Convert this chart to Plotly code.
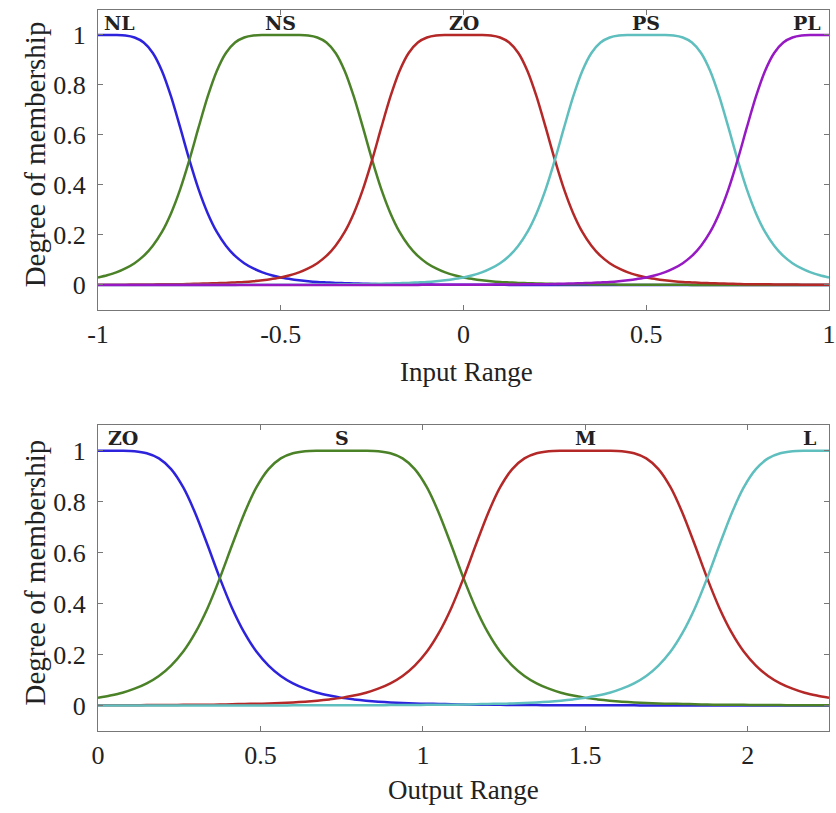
import plotly.graph_objects as go
from plotly.subplots import make_subplots

# ---------------- data ----------------
input_x = [-1.000, -0.975, -0.950, -0.925, -0.900, -0.875, -0.850, -0.825, -0.800, -0.775,
           -0.750, -0.725, -0.700, -0.675, -0.650, -0.625, -0.600, -0.575, -0.550, -0.525,
           -0.500, -0.475, -0.450, -0.425, -0.400, -0.375, -0.350, -0.325, -0.300, -0.275,
           -0.250, -0.225, -0.200, -0.175, -0.150, -0.125, -0.100, -0.075, -0.050, -0.025,
           0.000, 0.025, 0.050, 0.075, 0.100, 0.125, 0.150, 0.175, 0.200, 0.225,
           0.250, 0.275, 0.300, 0.325, 0.350, 0.375, 0.400, 0.425, 0.450, 0.475,
           0.500, 0.525, 0.550, 0.575, 0.600, 0.625, 0.650, 0.675, 0.700, 0.725,
           0.750, 0.775, 0.800, 0.825, 0.850, 0.875, 0.900, 0.925, 0.950, 0.975, 1.000]

mf_NL = [1.000, 1.000, 1.000, 0.998, 0.990, 0.970, 0.928, 0.856, 0.753, 0.629,
         0.500, 0.383, 0.287, 0.212, 0.157, 0.116, 0.087, 0.066, 0.050, 0.039,
         0.030, 0.024, 0.019, 0.015, 0.012, 0.010, 0.008, 0.007, 0.006, 0.005,
         0.004, 0.003, 0.003, 0.003, 0.002, 0.002, 0.002, 0.001, 0.001, 0.001,
         0.001, 0.001, 0.001, 0.001, 0.001, 0, 0, 0, 0, 0,
         0, 0, 0, 0, 0, 0, 0, 0, 0, 0,
         0, 0, 0, 0, 0, 0, 0, 0, 0, 0,
         0, 0, 0, 0, 0, 0, 0, 0, 0, 0, 0]
mf_NS = [0.030, 0.039, 0.050, 0.066, 0.087, 0.116, 0.157, 0.212, 0.287, 0.383,
         0.500, 0.629, 0.753, 0.856, 0.928, 0.970, 0.990, 0.998, 1.000, 1.000,
         1.000, 1.000, 1.000, 0.998, 0.990, 0.970, 0.928, 0.856, 0.753, 0.629,
         0.500, 0.383, 0.287, 0.212, 0.157, 0.116, 0.087, 0.066, 0.050, 0.039,
         0.030, 0.024, 0.019, 0.015, 0.012, 0.010, 0.008, 0.007, 0.006, 0.005,
         0.004, 0.003, 0.003, 0.003, 0.002, 0.002, 0.002, 0.001, 0.001, 0.001,
         0.001, 0.001, 0.001, 0.001, 0.001, 0, 0, 0, 0, 0,
         0, 0, 0, 0, 0, 0, 0, 0, 0, 0, 0]
mf_ZO = [0.001, 0.001, 0.001, 0.001, 0.002, 0.002, 0.002, 0.003, 0.003, 0.003,
         0.004, 0.005, 0.006, 0.007, 0.008, 0.010, 0.012, 0.015, 0.019, 0.024,
         0.030, 0.039, 0.050, 0.066, 0.087, 0.116, 0.157, 0.212, 0.287, 0.383,
         0.500, 0.629, 0.753, 0.856, 0.928, 0.970, 0.990, 0.998, 1.000, 1.000,
         1.000, 1.000, 1.000, 0.998, 0.990, 0.970, 0.928, 0.856, 0.753, 0.629,
         0.500, 0.383, 0.287, 0.212, 0.157, 0.116, 0.087, 0.066, 0.050, 0.039,
         0.030, 0.024, 0.019, 0.015, 0.012, 0.010, 0.008, 0.007, 0.006, 0.005,
         0.004, 0.003, 0.003, 0.003, 0.002, 0.002, 0.002, 0.001, 0.001, 0.001, 0.001]
mf_PS = [0, 0, 0, 0, 0, 0, 0, 0, 0, 0,
         0, 0, 0, 0, 0, 0, 0.001, 0.001, 0.001, 0.001,
         0.001, 0.001, 0.001, 0.001, 0.002, 0.002, 0.002, 0.003, 0.003, 0.003,
         0.004, 0.005, 0.006, 0.007, 0.008, 0.010, 0.012, 0.015, 0.019, 0.024,
         0.030, 0.039, 0.050, 0.066, 0.087, 0.116, 0.157, 0.212, 0.287, 0.383,
         0.500, 0.629, 0.753, 0.856, 0.928, 0.970, 0.990, 0.998, 1.000, 1.000,
         1.000, 1.000, 1.000, 0.998, 0.990, 0.970, 0.928, 0.856, 0.753, 0.629,
         0.500, 0.383, 0.287, 0.212, 0.157, 0.116, 0.087, 0.066, 0.050, 0.039, 0.030]
mf_PL = [0, 0, 0, 0, 0, 0, 0, 0, 0, 0,
         0, 0, 0, 0, 0, 0, 0, 0, 0, 0,
         0, 0, 0, 0, 0, 0, 0, 0, 0, 0,
         0, 0, 0, 0, 0, 0, 0.001, 0.001, 0.001, 0.001,
         0.001, 0.001, 0.001, 0.001, 0.002, 0.002, 0.002, 0.003, 0.003, 0.003,
         0.004, 0.005, 0.006, 0.007, 0.008, 0.010, 0.012, 0.015, 0.019, 0.024,
         0.030, 0.039, 0.050, 0.066, 0.087, 0.116, 0.157, 0.212, 0.287, 0.383,
         0.500, 0.629, 0.753, 0.856, 0.928, 0.970, 0.990, 0.998, 1.000, 1.000, 1.000]

output_x = [0.0000, 0.0375, 0.0750, 0.1125, 0.1500, 0.1875, 0.2250, 0.2625, 0.3000, 0.3375,
            0.3750, 0.4125, 0.4500, 0.4875, 0.5250, 0.5625, 0.6000, 0.6375, 0.6750, 0.7125,
            0.7500, 0.7875, 0.8250, 0.8625, 0.9000, 0.9375, 0.9750, 1.0125, 1.0500, 1.0875,
            1.1250, 1.1625, 1.2000, 1.2375, 1.2750, 1.3125, 1.3500, 1.3875, 1.4250, 1.4625,
            1.5000, 1.5375, 1.5750, 1.6125, 1.6500, 1.6875, 1.7250, 1.7625, 1.8000, 1.8375,
            1.8750, 1.9125, 1.9500, 1.9875, 2.0250, 2.0625, 2.1000, 2.1375, 2.1750, 2.2125, 2.2500]

mf_out_ZO = [1.000, 1.000, 1.000, 0.998, 0.990, 0.970, 0.928, 0.856, 0.753, 0.629,
             0.500, 0.383, 0.287, 0.212, 0.157, 0.116, 0.087, 0.066, 0.050, 0.039,
             0.030, 0.024, 0.019, 0.015, 0.012, 0.010, 0.008, 0.007, 0.006, 0.005,
             0.004, 0.003, 0.003, 0.003, 0.002, 0.002, 0.002, 0.001, 0.001, 0.001,
             0.001, 0.001, 0.001, 0.001, 0.001, 0, 0, 0, 0, 0,
             0, 0, 0, 0, 0, 0, 0, 0, 0, 0, 0]
mf_out_S = [0.030, 0.039, 0.050, 0.066, 0.087, 0.116, 0.157, 0.212, 0.287, 0.383,
            0.500, 0.629, 0.753, 0.856, 0.928, 0.970, 0.990, 0.998, 1.000, 1.000,
            1.000, 1.000, 1.000, 0.998, 0.990, 0.970, 0.928, 0.856, 0.753, 0.629,
            0.500, 0.383, 0.287, 0.212, 0.157, 0.116, 0.087, 0.066, 0.050, 0.039,
            0.030, 0.024, 0.019, 0.015, 0.012, 0.010, 0.008, 0.007, 0.006, 0.005,
            0.004, 0.003, 0.003, 0.003, 0.002, 0.002, 0.002, 0.001, 0.001, 0.001, 0.001]
mf_out_M = [0.001, 0.001, 0.001, 0.001, 0.002, 0.002, 0.002, 0.003, 0.003, 0.003,
            0.004, 0.005, 0.006, 0.007, 0.008, 0.010, 0.012, 0.015, 0.019, 0.024,
            0.030, 0.039, 0.050, 0.066, 0.087, 0.116, 0.157, 0.212, 0.287, 0.383,
            0.500, 0.629, 0.753, 0.856, 0.928, 0.970, 0.990, 0.998, 1.000, 1.000,
            1.000, 1.000, 1.000, 0.998, 0.990, 0.970, 0.928, 0.856, 0.753, 0.629,
            0.500, 0.383, 0.287, 0.212, 0.157, 0.116, 0.087, 0.066, 0.050, 0.039, 0.030]
mf_out_L = [0, 0, 0, 0, 0, 0, 0, 0, 0, 0,
            0, 0, 0, 0, 0, 0, 0.001, 0.001, 0.001, 0.001,
            0.001, 0.001, 0.001, 0.001, 0.002, 0.002, 0.002, 0.003, 0.003, 0.003,
            0.004, 0.005, 0.006, 0.007, 0.008, 0.010, 0.012, 0.015, 0.019, 0.024,
            0.030, 0.039, 0.050, 0.066, 0.087, 0.116, 0.157, 0.212, 0.287, 0.383,
            0.500, 0.629, 0.753, 0.856, 0.928, 0.970, 0.990, 0.998, 1.000, 1.000, 1.000]

input_labels = ["NL", "NS", "ZO", "PS", "PL"]
output_labels = ["ZO", "S", "M", "L"]

input_ticks = [-1, -0.5, 0, 0.5, 1]
input_ticktext = ["-1", "-0.5", "0", "0.5", "1"]
output_ticks = [0, 0.5, 1, 1.5, 2]
output_ticktext = ["0", "0.5", "1", "1.5", "2"]
y_ticks = [0, 0.2, 0.4, 0.6, 0.8, 1]
y_ticktext = ["0", "0.2", "0.4", "0.6", "0.8", "1"]

# ---------------- styles ----------------
BLUE = "rgb(45,35,220)"
GREEN = "rgb(75,130,40)"
RED = "rgb(180,40,40)"
CYAN = "rgb(95,190,190)"
PURPLE = "rgb(150,25,195)"
FONT = "Liberation Serif"
TXT = "#222"

fig = make_subplots(rows=2, cols=1, vertical_spacing=0.0)

top_series = [mf_NL, mf_NS, mf_ZO, mf_PS, mf_PL]
top_colors = [BLUE, GREEN, RED, CYAN, PURPLE]
for name, ys, col in zip(input_labels, top_series, top_colors):
    fig.add_trace(go.Scatter(x=input_x, y=ys, mode="lines", name=name,
                             line=dict(color=col, width=2.5, shape="spline", smoothing=0.8),
                             showlegend=False), row=1, col=1)

bot_series = [mf_out_ZO, mf_out_S, mf_out_M, mf_out_L]
bot_colors = [BLUE, GREEN, RED, CYAN]
for name, ys, col in zip(output_labels, bot_series, bot_colors):
    fig.add_trace(go.Scatter(x=output_x, y=ys, mode="lines", name=name,
                             line=dict(color=col, width=2.5, shape="spline", smoothing=0.8),
                             showlegend=False), row=2, col=1)

# membership-function name labels
top_label_x = [-0.94, -0.5, 0.0, 0.5, 0.94]
bot_label_x = [0.076, 0.75, 1.5, 2.19]
for lab, lx in zip(input_labels, top_label_x):
    fig.add_annotation(x=lx, y=1.05, xref="x", yref="y", text="<b>%s</b>" % lab,
                       showarrow=False, font=dict(family="DejaVu Serif", size=19, color=TXT))
for lab, lx in zip(output_labels, bot_label_x):
    fig.add_annotation(x=lx, y=1.05, xref="x2", yref="y2", text="<b>%s</b>" % lab,
                       showarrow=False, font=dict(family="DejaVu Serif", size=19, color=TXT))

# axis titles placed as annotations
title_font_x = dict(family=FONT, size=27, color=TXT)
title_font_y = dict(family=FONT, size=29, color=TXT)
fig.add_annotation(x=0.504, y=0.498, xref="paper", yref="paper", text="Input Range",
                   showarrow=False, xanchor="center", yanchor="middle", font=title_font_x)
fig.add_annotation(x=0.50, y=-0.082, xref="paper", yref="paper", text="Output Range",
                   showarrow=False, xanchor="center", yanchor="middle", font=title_font_x)
fig.add_annotation(x=-0.086, y=0.800, xref="paper", yref="paper", text="Degree of membership",
                   showarrow=False, textangle=-90, xanchor="center", yanchor="middle", font=title_font_y)
fig.add_annotation(x=-0.086, y=0.220, xref="paper", yref="paper", text="Degree of membership",
                   showarrow=False, textangle=-90, xanchor="center", yanchor="middle", font=title_font_y)

axis_common = dict(showgrid=False, zeroline=False, showline=True, linecolor="#777",
                   linewidth=1.3, mirror="ticks", ticks="inside", ticklen=5,
                   tickcolor="#777", automargin=False,
                   tickfont=dict(family=FONT, size=26, color=TXT))

fig.update_xaxes(**axis_common, ticklabelstandoff=1)
fig.update_yaxes(**axis_common, ticklabelstandoff=6)

fig.update_xaxes(range=[-1, 1], tickvals=input_ticks, ticktext=input_ticktext,
                 domain=[0, 1], row=1, col=1)
fig.update_xaxes(range=[0, 2.25], tickvals=output_ticks, ticktext=output_ticktext,
                 domain=[0, 1], row=2, col=1)
fig.update_yaxes(range=[-0.1, 1.1], tickvals=y_ticks, ticktext=y_ticktext,
                 domain=[0.584, 1.0], row=1, col=1)
fig.update_yaxes(range=[-0.1, 1.1], tickvals=y_ticks, ticktext=y_ticktext,
                 domain=[0.0, 0.424], row=2, col=1)

fig.update_layout(width=836, height=813, paper_bgcolor="white", plot_bgcolor="white",
                  margin=dict(l=98, r=7, t=10, b=82, autoexpand=False))

fig.write_html("out.html", config={"displayModeBar": False},
               post_script="document.body.style.margin='0';document.body.style.overflow='hidden';")
